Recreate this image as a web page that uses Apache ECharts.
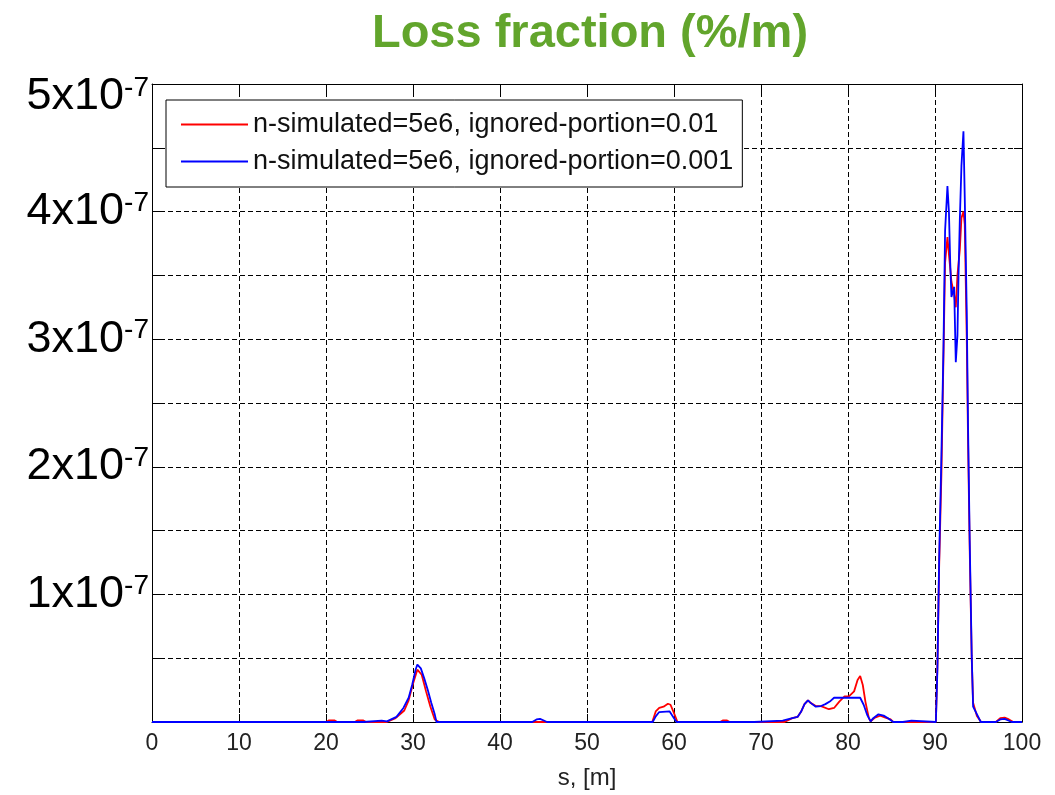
<!DOCTYPE html>
<html>
<head>
<meta charset="utf-8">
<script src="https://cdn.jsdelivr.net/npm/echarts@6/dist/echarts.min.js"></script>
<style>
  html, body { margin: 0; padding: 0; background: #ffffff; }
  #chart { width: 1055px; height: 795px; }
</style>
</head>
<body>
<div id="chart"></div>
<script>
// ---- data (s in metres, loss fraction in units of 1e-7 %/m) ----
const titleText = 'Loss fraction (%/m)';
const xName = 's, [m]';
const seriesNames = ['n-simulated=5e6, ignored-portion=0.01', 'n-simulated=5e6, ignored-portion=0.001'];
const xTicks = [0, 10, 20, 30, 40, 50, 60, 70, 80, 90, 100];
const yTickLabels = [1, 2, 3, 4, 5]; // x10^-7

const sRed = [0, 20, 20.3, 21, 21.3, 23.3, 23.6, 24.3, 24.6, 27, 28, 29, 29.5, 30, 30.5, 31, 31.5, 32, 32.5, 33,
  57.5, 57.9, 58.3, 58.8, 59.3, 59.6, 60.0, 60.4, 65.3, 65.6, 66.1, 66.4,
  72.7, 73.6, 74.2, 74.6, 75.0, 75.4, 75.7, 76.3, 76.9, 77.8, 78.4, 79.0, 79.6, 80.1, 80.7, 81.1, 81.4, 81.7, 82.0, 82.4, 82.6, 83.1, 83.7, 84.3, 84.9, 85.2,
  90.1, 90.28, 90.47, 90.74, 90.97, 91.16, 91.43, 91.62, 91.89, 92.2, 92.39, 92.58, 92.85, 93.04, 93.27, 93.42, 93.65, 93.8, 93.99, 94.22, 94.38, 94.8, 95.3,
  97.0, 97.5, 98.0, 98.5, 99.0, 100];
const vRed = [0, 0, 0.012, 0.012, 0, 0, 0.012, 0.012, 0, 0, 0.03, 0.09, 0.17, 0.30, 0.41, 0.37, 0.24, 0.12, 0.02, 0,
  0, 0.083, 0.11, 0.12, 0.143, 0.135, 0.07, 0, 0, 0.012, 0.012, 0,
  0, 0.03, 0.04, 0.08, 0.14, 0.17, 0.15, 0.125, 0.125, 0.10, 0.11, 0.16, 0.20, 0.20, 0.24, 0.33, 0.36, 0.29, 0.16, 0.03, 0.005, 0.035, 0.05, 0.035, 0.02, 0,
  0, 0.45, 1.2, 1.95, 2.85, 3.6, 3.8, 3.65, 3.45, 3.35, 3.25, 3.5, 3.7, 3.95, 4.0, 3.9, 3.0, 2.2, 1.35, 0.5, 0.15, 0.05, 0,
  0, 0.03, 0.035, 0.02, 0, 0];

const sBlue = [0, 24.3, 24.5, 26.4, 26.6, 27, 28.1, 28.9, 29.5, 29.9, 30.3, 30.5, 30.9, 31.3, 31.7, 32.1, 32.5, 32.7,
  43.7, 44.2, 44.6, 45.1, 45.4, 57.55, 57.9, 58.3, 59.5, 60.0, 60.3, 69.2, 69.4, 72.5,
  72.7, 73.6, 74.2, 74.6, 75.0, 75.4, 75.7, 76.3, 76.9, 77.4, 78.0, 78.4, 79.1, 80.1, 81.4, 81.8, 82.2, 82.6, 82.9, 83.5, 84.1, 84.6, 85.2,
  86.3, 86.5, 87.3, 87.5,
  90.1, 90.28, 90.47, 90.74, 90.97, 91.16, 91.43, 91.6, 91.75, 91.89, 92.2, 92.39, 92.58, 92.7, 92.85, 93.04, 93.27, 93.42, 93.65, 93.8, 93.99, 94.22, 94.38, 95.26,
  97.0, 97.5, 98.0, 98.5, 98.8, 100];
const vBlue = [0, 0, 0.01, 0.01, 0, 0.005, 0.04, 0.11, 0.19, 0.29, 0.41, 0.45, 0.42, 0.34, 0.25, 0.15, 0.06, 0,
  0, 0.02, 0.025, 0.01, 0, 0, 0.044, 0.078, 0.083, 0.03, 0, 0, 0.01, 0.01,
  0.005, 0.03, 0.04, 0.08, 0.14, 0.17, 0.15, 0.12, 0.125, 0.14, 0.165, 0.19, 0.19, 0.19, 0.19, 0.135, 0.057, 0.005, 0.03, 0.06, 0.05, 0.03, 0,
  0, 0.01, 0.01, 0,
  0, 0.42, 1.25, 2.10, 2.92, 3.85, 4.2, 4.0, 3.6, 3.33, 3.41, 2.82, 3.03, 3.49, 3.93, 4.36, 4.63, 4.11, 3.21, 2.31, 1.42, 0.52, 0.12, 0,
  0, 0.02, 0.025, 0.01, 0, 0];

// ---- chart ----
const FONT = '"Liberation Sans", Arial, Helvetica, sans-serif';
const chart = echarts.init(document.getElementById('chart'), null, { renderer: 'canvas' });

const dash = [5, 3];
function yLabel(v) {
  const r = Math.round(v);
  if (Math.abs(v - r) > 1e-6 || r <= 0 || yTickLabels.indexOf(r) < 0) return '';
  if (r === 5) return '{a5|' + r + 'x10}{b5|-7}';
  return '{a|' + r + 'x10}{b|-7}';
}

const option = {
  backgroundColor: '#ffffff',
  animation: false,
  title: {
    text: titleText,
    left: 585,
    textAlign: 'center',
    top: 6,
    textStyle: { fontFamily: FONT, fontSize: 47, fontWeight: 'bold', color: '#62a52c' }
  },
  legend: {
    data: seriesNames,
    orient: 'vertical',
    left: 166,
    top: 100,
    padding: [11, 9, 12, 15],
    itemGap: 10,
    itemWidth: 67,
    itemHeight: 2,
    icon: 'rect',
    backgroundColor: '#ffffff',
    borderColor: '#000000',
    borderWidth: 1,
    borderRadius: 0,
    textStyle: { fontFamily: FONT, fontSize: 27, color: '#111', lineHeight: 26 }
  },
  grid: { left: 152, right: 33, top: 84, bottom: 71, containLabel: false },
  xAxis: [{
    type: 'value', min: xTicks[0], max: xTicks[xTicks.length - 1], interval: 10,
    position: 'bottom',
    name: xName, nameLocation: 'middle', nameGap: 44,
    nameTextStyle: { fontFamily: FONT, fontSize: 24, color: '#222' },
    axisLine: { show: true, onZero: false, lineStyle: { color: '#000', width: 1 } },
    axisTick: { show: true, inside: true, length: 8, lineStyle: { color: '#000' } },
    axisLabel: { fontFamily: FONT, fontSize: 23, color: '#222', margin: 10 },
    splitLine: { show: true, lineStyle: { color: '#000', type: dash, width: 1 } }
  }, {
    type: 'value', min: xTicks[0], max: xTicks[xTicks.length - 1], interval: 10,
    position: 'top',
    axisLine: { show: true, onZero: false, lineStyle: { color: '#000', width: 1 } },
    axisTick: { show: true, inside: true, length: 8, lineStyle: { color: '#000' } },
    axisLabel: { show: false },
    splitLine: { show: false }
  }],
  yAxis: [{
    type: 'value', min: 0, max: 5, interval: 0.5,
    position: 'left',
    axisLine: { show: true, onZero: false, lineStyle: { color: '#000', width: 1 } },
    axisTick: { show: true, inside: true, length: 8, lineStyle: { color: '#000' } },
    axisLabel: {
      margin: 3,
      formatter: yLabel,
      rich: {
        a: { fontFamily: FONT, fontSize: 45, color: '#000' },
        b: { fontFamily: FONT, fontSize: 28, color: '#000', verticalAlign: 'top' },
        a5: { fontFamily: FONT, fontSize: 45, color: '#000', padding: [26, 0, 0, 0] },
        b5: { fontFamily: FONT, fontSize: 28, color: '#000', verticalAlign: 'top', padding: [26, 0, 0, 0] }
      }
    },
    splitLine: { show: true, lineStyle: { color: '#000', type: dash, width: 1 } }
  }, {
    type: 'value', min: 0, max: 5, interval: 0.5,
    position: 'right',
    axisLine: { show: true, onZero: false, lineStyle: { color: '#000', width: 1 } },
    axisTick: { show: true, inside: true, length: 8, lineStyle: { color: '#000' } },
    axisLabel: { show: false },
    splitLine: { show: false }
  }],
  series: [{
    name: seriesNames[0],
    type: 'line',
    xAxisIndex: 0, yAxisIndex: 0,
    data: sRed.map((s, i) => [s, vRed[i]]),
    symbol: 'none',
    lineStyle: { color: '#ff0000', width: 1.8 },
    itemStyle: { color: '#ff0000' },
    z: 3
  }, {
    name: seriesNames[1],
    type: 'line',
    xAxisIndex: 0, yAxisIndex: 0,
    data: sBlue.map((s, i) => [s, vBlue[i]]),
    symbol: 'none',
    lineStyle: { color: '#0000ff', width: 1.8 },
    itemStyle: { color: '#0000ff' },
    z: 4
  }]
};
chart.setOption(option);
</script>
</body>
</html>
